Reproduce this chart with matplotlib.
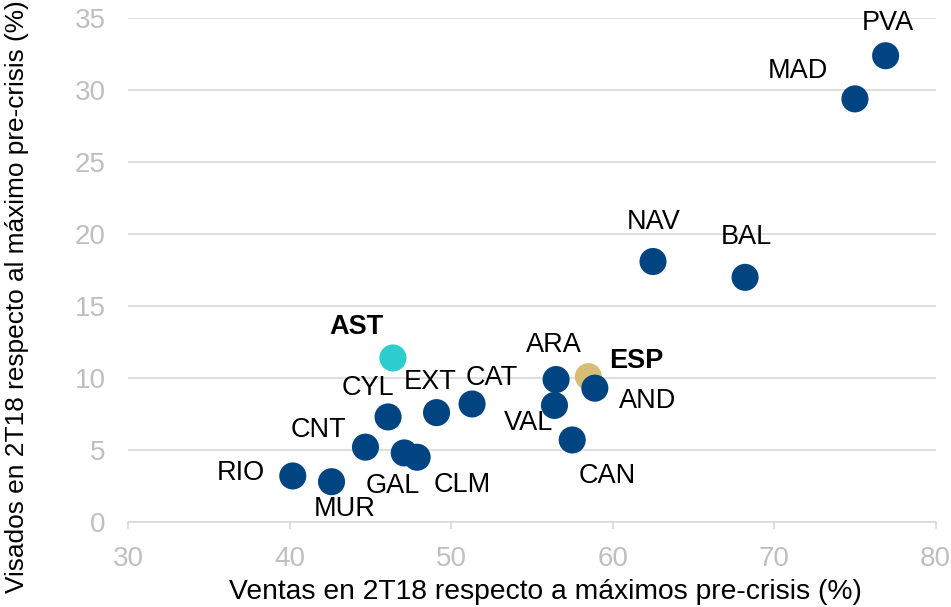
import matplotlib.pyplot as plt

plt.rcParams['font.family'] = ['Liberation Sans', 'DejaVu Sans']

# Data
regions = ['PVA', 'MAD', 'NAV', 'BAL', 'AST', 'ESP', 'ARA', 'AND', 'VAL', 'CAN',
           'CAT', 'EXT', 'CYL', 'CNT', 'GAL', 'CLM', 'RIO', 'MUR']
ventas = [76.9, 75.0, 62.5, 68.2, 46.4, 58.5, 56.5, 58.9, 56.4, 57.5,
          51.3, 49.1, 46.1, 44.7, 47.1, 47.9, 40.2, 42.6]
visados = [32.4, 29.4, 18.1, 17.0, 11.4, 10.1, 9.9, 9.3, 8.1, 5.7,
           8.2, 7.6, 7.3, 5.2, 4.8, 4.5, 3.2, 2.8]
x_ticks = [30, 40, 50, 60, 70, 80]
y_ticks = [0, 5, 10, 15, 20, 25, 30, 35]

# label offsets in pixels (dx, dy) for each region
offsets = {'PVA': (2, 33), 'MAD': (-57, 28), 'NAV': (1, 40), 'BAL': (1, 40),
           'AST': (-37, 31), 'ESP': (48, 16), 'ARA': (-2, 35), 'AND': (53, -13),
           'VAL': (-26, -18), 'CAN': (35, -36), 'CAT': (20, 26), 'EXT': (-6, 31),
           'CYL': (-20, 29), 'CNT': (-47, 17), 'GAL': (-11, -33), 'CLM': (45, -28),
           'RIO': (-52, 3), 'MUR': (13, -27)}

navy = '#004481'
special = {'AST': '#2dcccd', 'ESP': '#d8be75'}
grey = '#bfbfbf'

W, H = 951, 607
fig = plt.figure(figsize=(W / 100, H / 100), dpi=100)
ax = fig.add_axes([128 / W, 1 - 522 / H, (935.7 - 128) / W, (522 - 18.3) / H])

colors = [special.get(r, navy) for r in regions]
ax.scatter(ventas, visados, s=380, c=colors, edgecolors='none', zorder=3)

px = 72 / 100  # pixels -> points
for r, x, y in zip(regions, ventas, visados):
    dx, dy = offsets[r]
    ax.annotate(r, (x, y), xytext=(dx * px, dy * px), textcoords='offset points',
                ha='center', va='center', fontsize=19.5,
                fontweight='bold' if r in special else 'normal', color='black', zorder=4)

ax.set_xlim(30, 80)
ax.set_ylim(0, 35)
ax.set_xticks(x_ticks)
ax.set_yticks(y_ticks)
ax.grid(axis='y', color='#d9d9d9', linewidth=1.2)
ax.set_axisbelow(True)
for side in ['left', 'right', 'top']:
    ax.spines[side].set_visible(False)
ax.spines['bottom'].set_color('#d9d9d9')
ax.spines['bottom'].set_linewidth(1.2)
ax.tick_params(axis='x', colors=grey, length=5, width=1.2, labelsize=20, pad=12)
ax.tick_params(axis='x', color='#d9d9d9')
ax.tick_params(axis='y', length=0, labelsize=20, colors=grey, pad=16)

# axis titles placed like the reference (not centred on the axes)
fig.text(545 / W, 1 - 592 / H, 'Ventas en 2T18 respecto a máximos pre-crisis (%)',
         fontsize=20.3, ha='center', va='center')
fig.text(17 / W, 1 - 297 / H, 'Visados en 2T18 respecto al máximo pre-crisis (%)',
         fontsize=18.9, ha='center', va='center', rotation=90)

fig.savefig('out.png', dpi=100)
